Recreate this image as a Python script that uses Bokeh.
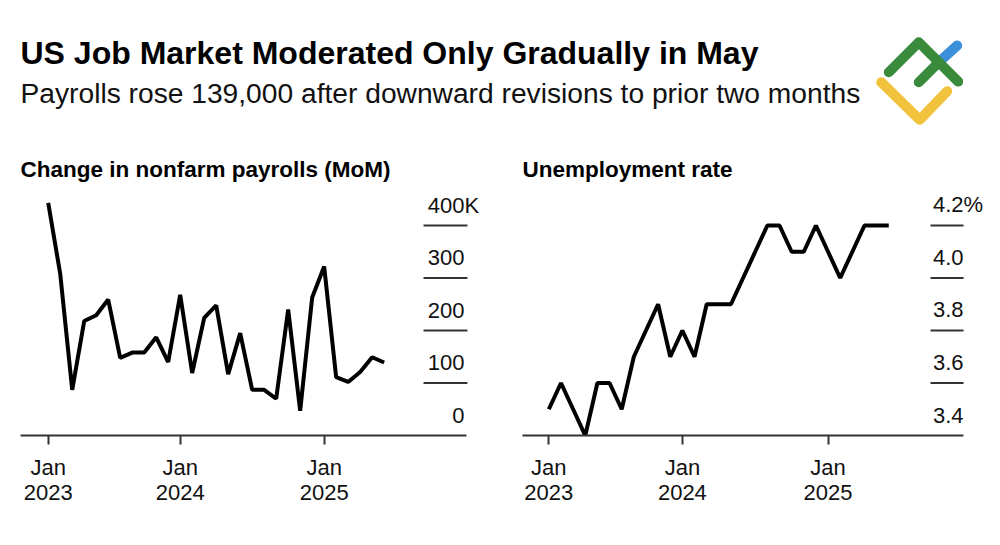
import pandas as pd
from bokeh.plotting import figure
from bokeh.models import Range1d, LinearAxis, FixedTicker, ColumnDataSource, LabelSet
from bokeh.layouts import column, row
from bokeh.core.properties import value
from bokeh.embed import file_html
from bokeh.resources import INLINE

# ---------------- data ----------------
months = pd.date_range("2023-01-01", "2025-05-01", freq="MS").strftime("%Y-%m").tolist()
month_index = list(range(len(months)))

payrolls = [443, 308, 87, 218, 229, 259, 148, 158, 158, 187, 140, 268, 119, 224,
            248, 117, 195, 87, 87, 70, 240, 47, 263, 322, 111, 102, 121, 149, 139]

unemployment = [3.5, 3.6, 3.5, 3.4, 3.6, 3.6, 3.5, 3.7, 3.8, 3.9, 3.7, 3.8, 3.7, 3.9,
                3.9, 3.9, 4.0, 4.1, 4.2, 4.2, 4.1, 4.1, 4.2, 4.1, 4.0, 4.1, 4.2, 4.2, 4.2]

x_tick_index = [0, 11, 23]
x_tick_month = ["Jan", "Jan", "Jan"]
x_tick_year = ["2023", "2024", "2025"]

pay_ticks = [0, 100, 200, 300, 400]
pay_tick_labels = ["0", "100", "200", "300", "400"]
pay_suffix = "K"

ur_ticks = [3.4, 3.6, 3.8, 4.0, 4.2]
ur_tick_labels = ["3.4", "3.6", "3.8", "4.0", "4.2"]
ur_suffix = "%"

title_text = "US Job Market Moderated Only Gradually in May"
subtitle_text = "Payrolls rose 139,000 after downward revisions to prior two months"
left_title = "Change in nonfarm payrolls (MoM)"
right_title = "Unemployment rate"

FONT = "Liberation Sans"
INK = "#111111"
AXIS = "#333333"


def make_panel(title, values, ticks, tick_labels, suffix, width, x_range, axis_end, y_range,
               border_left, border_right, grid_x0, grid_x1, label_x):
    p = figure(width=width, height=400, x_range=Range1d(*x_range), y_range=Range1d(*y_range),
               x_axis_location=None, y_axis_location=None, toolbar_location=None,
               output_backend="svg", min_border_left=border_left, min_border_right=border_right,
               min_border_top=55, min_border_bottom=100, title=title)
    p.outline_line_color = None
    p.grid.visible = False
    p.background_fill_color = "white"
    p.border_fill_color = "white"

    p.title.text_font = FONT
    p.title.text_font_style = "bold"
    p.title.text_font_size = "22.5px"
    p.title.text_color = "#000000"
    p.title.align = "left"
    p.title.standoff = 17

    # short gridlines at right side
    gy = ticks[1:]
    p.segment(x0=[grid_x0] * len(gy), x1=[grid_x1] * len(gy), y0=gy, y1=gy,
              line_color=AXIS, line_width=1.8)

    src = ColumnDataSource(dict(i=month_index, v=values))
    p.line(x="i", y="v", source=src, line_color="black", line_width=4, line_join="bevel")

    label_style = dict(text_baseline="alphabetic", y_offset=13, text_font=value(FONT),
                       text_font_size=value("22px"), text_color=INK)
    lab_src = ColumnDataSource(dict(x=[label_x] * len(ticks), y=ticks, text=tick_labels))
    p.add_layout(LabelSet(x="x", y="y", text="text", source=lab_src, text_align="right",
                          **label_style))
    suf_src = ColumnDataSource(dict(x=[label_x], y=[ticks[-1]], text=[suffix]))
    p.add_layout(LabelSet(x="x", y="y", text="text", source=suf_src, text_align="left",
                          **label_style))

    ax = LinearAxis(ticker=FixedTicker(ticks=x_tick_index), bounds=(x_range[0], axis_end),
                    major_label_overrides={i: m for i, m in zip(x_tick_index, x_tick_month)})
    ax.axis_line_color = AXIS
    ax.axis_line_width = 2
    ax.major_tick_line_color = AXIS
    ax.major_tick_line_width = 2
    ax.major_tick_in = 0
    ax.major_tick_out = 9
    ax.minor_tick_line_color = None
    ax.major_label_standoff = 10
    ax.major_label_text_font = FONT
    ax.major_label_text_font_size = "22px"
    ax.major_label_text_color = INK
    p.add_layout(ax, "below")

    ay = LinearAxis(ticker=FixedTicker(ticks=x_tick_index), bounds=(x_range[0], axis_end),
                    major_label_overrides={i: y for i, y in zip(x_tick_index, x_tick_year)})
    ay.axis_line_color = None
    ay.major_tick_line_color = None
    ay.minor_tick_line_color = None
    ay.major_tick_in = 0
    ay.major_tick_out = 0
    ay.major_label_standoff = 2
    ay.major_label_text_font = FONT
    ay.major_label_text_font_size = "22px"
    ay.major_label_text_color = INK
    p.add_layout(ay, "below")
    return p


left = make_panel(left_title, payrolls, pay_ticks, pay_tick_labels, pay_suffix, 500,
                  (-2.31, 37.28), 34.86, (0, 466.7), 20, 5, 31.28, 34.94, 34.69)
right = make_panel(right_title, unemployment, ur_ticks, ur_tick_labels, ur_suffix, 492,
                   (-2.17, 36.38), 34.16, (3.4, 4.3333), 22, 2, 31.44, 34.16, 34.16)

# ---------------- header ----------------
H = 135
head = figure(width=992, height=H, x_range=Range1d(0, 992), y_range=Range1d(H, 0),
              x_axis_location=None, y_axis_location=None, toolbar_location=None,
              output_backend="svg", min_border=0)
head.outline_line_color = None
head.grid.visible = False

head.text(x=[20], y=[52], text=[title_text], text_font=value(FONT), text_font_style="bold",
          text_font_size=value("32px"), text_baseline="alphabetic", text_color="#000000")
head.text(x=[20], y=[92], text=[subtitle_text], text_font=value(FONT),
          text_font_size=value("28.2px"), text_baseline="alphabetic", text_color="#111111")

# logo (decorative)
logo_kw = dict(line_width=10, line_cap="round", line_join="round")
head.line([936, 956.7], [63.7, 45], line_color="#3b8fdb", **logo_kw)
head.line([880.7, 919.3, 946.7], [81.7, 119.3, 90.7], line_color="#f1c33d", **logo_kw)
head.line([888.3, 918.3, 957.7], [71.7, 41.7, 81.1], line_color="#3a8a3c", **logo_kw)
head.line([918.3, 938.3], [81.7, 61.7], line_color="#3a8a3c", **logo_kw)

layout = column(head, row(left, right))

open("out.html", "w").write(file_html(layout, INLINE))
